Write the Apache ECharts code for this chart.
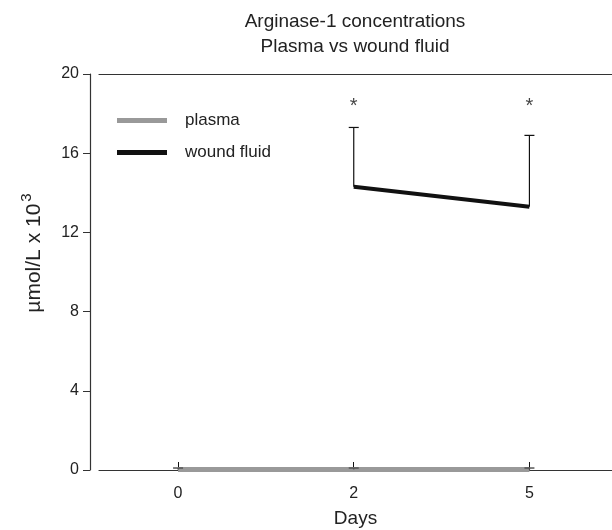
<!DOCTYPE html>
<html>
<head>
<meta charset="utf-8">
<script src="https://cdn.jsdelivr.net/npm/echarts@6/dist/echarts.min.js"></script>
<style>
  html, body { margin: 0; padding: 0; background: #fff; }
  #chart { width: 612px; height: 530px; }
</style>
</head>
<body>
<div id="chart"></div>
<script>
// day labels (x positions 0,1,2)
const days = ['0', '2', '5'];
const yTicks = [0, 4, 8, 12, 16, 20];

// plasma: near zero
const plasmaMean = [0.03, 0.03, 0.03];
const plasmaUpper = [0.1, 0.1, 0.1];

// wound fluid: only day 2 and day 5
const woundMean = [null, 14.3, 13.3];
const woundUpper = [null, 17.3, 16.9];
const sigMarks = [null, 18.35, 18.35];

const FONT = 'Liberation Sans, Arial, sans-serif';
const AXIS = '#333';

const toPoints = arr => arr.map((v, i) => [i, v]).filter(p => p[1] != null);

const errData = (mean, upper) =>
    mean.map((m, i) => [i, m, upper[i]]).filter(d => d[1] != null);

function errorBar(color, width) {
    return function (params, api) {
        const base = api.coord([api.value(0), api.value(1)]);
        const top = api.coord([api.value(0), api.value(2)]);
        const half = 5;
        const style = { stroke: color, lineWidth: width };
        return {
            type: 'group',
            children: [
                { type: 'line', shape: { x1: base[0], y1: base[1], x2: top[0], y2: top[1] }, style },
                { type: 'line', shape: { x1: top[0] - half, y1: top[1], x2: top[0] + half, y2: top[1] }, style },
            ],
        };
    };
}

const chart = echarts.init(document.getElementById('chart'), null, { renderer: 'canvas' });

chart.setOption({
    animation: false,
    textStyle: { fontFamily: FONT },
    title: {
        text: 'Arginase-1 concentrations\nPlasma vs wound fluid',
        left: 350,
        top: 4,
        textAlign: 'center',
        textStyle: { fontFamily: FONT, fontSize: 19, fontWeight: 'normal', color: '#222', lineHeight: 25 },
    },
    legend: {
        orient: 'vertical',
        left: 112,
        top: 107,
        itemWidth: 50,
        itemHeight: 5,
        itemGap: 15,
        icon: 'rect',
        data: ['plasma', 'wound fluid'],
        textStyle: { fontFamily: FONT, fontSize: 17, color: '#222', padding: [0, 0, 0, 13] },
    },
    grid: { left: 99, right: 0, top: 74, bottom: 60, containLabel: false, outerBoundsMode: 'none' },
    xAxis: [{
        type: 'value',
        min: -0.45,
        max: 2.47,
        name: 'Days',
        nameLocation: 'middle',
        nameGap: 39,
        nameTextStyle: { fontFamily: FONT, fontSize: 19, color: '#222' },
        axisLine: { show: true, onZero: false, lineStyle: { color: AXIS, width: 1.2 } },
        axisTick: { show: true, inside: true, length: 8, customValues: [0, 1, 2], lineStyle: { color: '#111' } },
        axisLabel: {
            customValues: [0, 1, 2],
            formatter: v => days[Math.round(v)],
            fontSize: 16, color: '#222', margin: 16,
        },
        splitLine: { show: false },
    }, {
        type: 'value',
        position: 'top',
        min: -0.45,
        max: 2.47,
        axisLine: { show: true, onZero: false, lineStyle: { color: AXIS, width: 1.2 } },
        axisTick: { show: false },
        axisLabel: { show: false },
        splitLine: { show: false },
    }],
    yAxis: {
        type: 'value',
        min: 0,
        max: 20,
        interval: 4,
        offset: 9,
        name: 'µmol/L x 10{sup|3}',
        nameLocation: 'middle',
        nameRotate: 90,
        nameGap: 41,
        nameTextStyle: {
            fontFamily: FONT, fontSize: 21, color: '#222',
            padding: [0, 0, 0, 38],
            rich: {
                sup: { fontSize: 15, color: '#222', verticalAlign: 'top', padding: [0, 0, 15, 2] },
            },
        },
        axisLine: { show: true, onZero: false, lineStyle: { color: AXIS, width: 1.2 } },
        axisTick: { show: true, length: 7, lineStyle: { color: AXIS } },
        axisLabel: {
            formatter: v => yTicks.includes(v) ? String(v) : '',
            fontSize: 16, color: '#222', margin: 11,
        },
        splitLine: { show: false },
    },
    series: [
        {
            name: 'plasma',
            type: 'line',
            data: toPoints(plasmaMean),
            symbol: 'none',
            itemStyle: { color: '#999' },
            lineStyle: { color: '#999', width: 5 },
            z: 3,
        },
        {
            name: 'wound fluid',
            type: 'line',
            data: toPoints(woundMean),
            symbol: 'none',
            itemStyle: { color: '#111' },
            lineStyle: { color: '#111', width: 4 },
            z: 4,
        },
        {
            name: 'plasma err',
            type: 'custom',
            data: errData(plasmaMean, plasmaUpper),
            renderItem: errorBar('#555', 1.5),
            z: 5,
        },
        {
            name: 'wound err',
            type: 'custom',
            data: errData(woundMean, woundUpper),
            renderItem: errorBar('#111', 1.2),
            z: 5,
        },
        {
            name: 'significance',
            type: 'scatter',
            data: toPoints(sigMarks),
            symbolSize: 0,
            label: {
                show: true,
                position: 'inside',
                formatter: '*',
                fontFamily: FONT,
                fontSize: 20,
                color: '#111',
            },
        },
    ],
});

window.addEventListener('resize', () => chart.resize());
</script>
</body>
</html>
